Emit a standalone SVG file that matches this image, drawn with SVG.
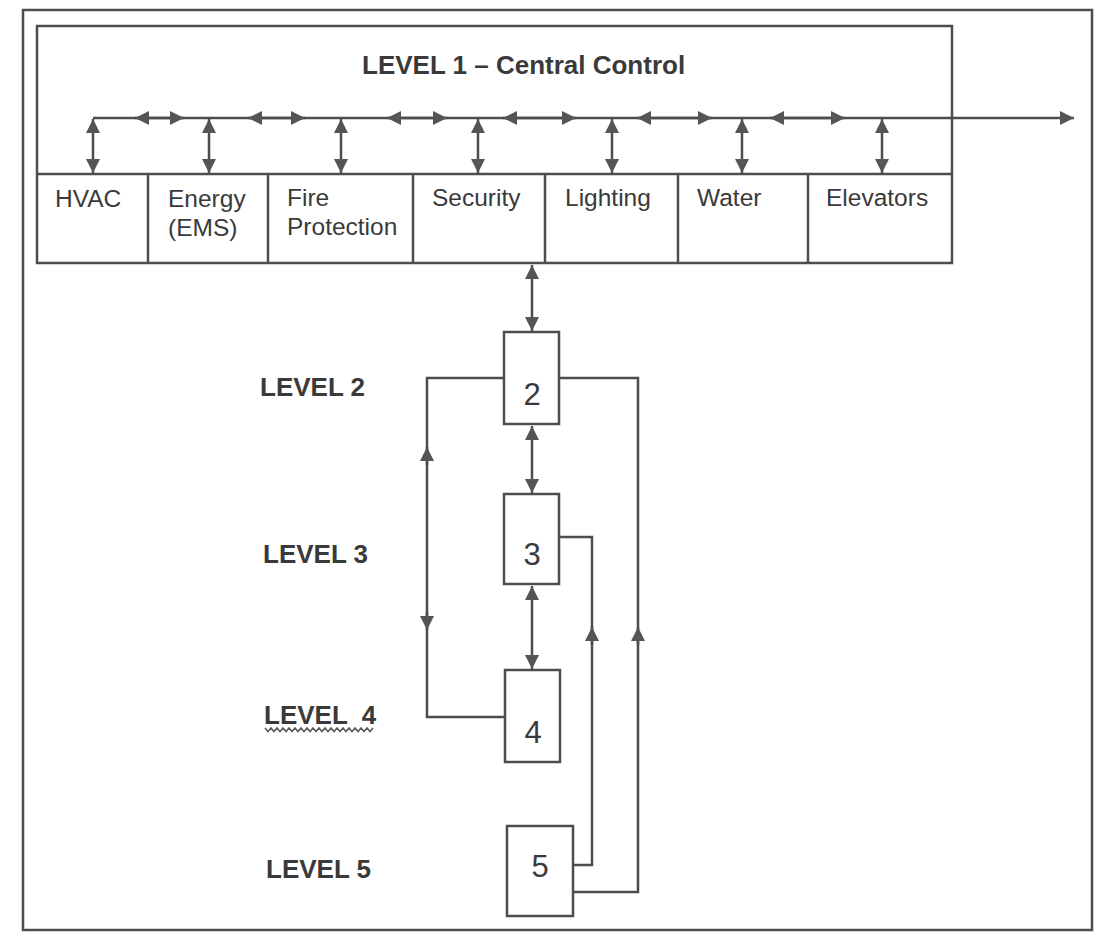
<svg xmlns="http://www.w3.org/2000/svg" width="1103" height="932" viewBox="0 0 1103 932">
<defs>
<style>
.ln{fill:none;stroke:#4d4d4d;stroke-width:2.5}
.bx{fill:#fff;stroke:#4d4d4d;stroke-width:2.5}
.ttl{font-family:"Liberation Sans",Arial,sans-serif;font-weight:bold;font-size:26px;fill:#3a3a3a}
.lab{font-family:"Liberation Sans",Arial,sans-serif;font-size:24.5px;fill:#3a3a3a}
.num{font-family:"Liberation Sans",Arial,sans-serif;font-size:31px;fill:#3a3a3a;text-anchor:middle}
.ar{fill:none;stroke:#4d4d4d;stroke-width:2.5;marker-end:url(#ah)}
.dar{fill:none;stroke:#4d4d4d;stroke-width:2.5;marker-start:url(#ah);marker-end:url(#ah)}
</style>
<marker id="ah" markerUnits="userSpaceOnUse" markerWidth="15" markerHeight="14" refX="14" refY="7" orient="auto-start-reverse" viewBox="0 0 15 14">
<path d="M0,0 L14,7 L0,14 z" fill="#555"/>
</marker>
</defs>
<rect width="1103" height="932" fill="#fff"/>
<rect id="frame" x="23" y="10" width="1069" height="920" class="ln"/>

<g id="level1">
<rect x="37" y="26" width="915" height="237" class="bx"/>
<line x1="37" y1="174" x2="952" y2="174" class="ln"/>
<text x="362" y="74" class="ttl">LEVEL 1 – Central Control</text>
</g>

<g id="hvac"><line x1="148" y1="174" x2="148" y2="263" class="ln"/><text x="55" y="207" class="lab">HVAC</text></g>
<g id="energy"><line x1="268" y1="174" x2="268" y2="263" class="ln"/><text x="168" y="207" class="lab">Energy</text><text x="168" y="236" class="lab">(EMS)</text></g>
<g id="fire"><line x1="413" y1="174" x2="413" y2="263" class="ln"/><text x="287" y="206" class="lab">Fire</text><text x="287" y="235" class="lab">Protection</text></g>
<g id="security"><line x1="545" y1="174" x2="545" y2="263" class="ln"/><text x="432" y="206" class="lab">Security</text></g>
<g id="lighting"><line x1="678" y1="174" x2="678" y2="263" class="ln"/><text x="565" y="206" class="lab">Lighting</text></g>
<g id="water"><line x1="808" y1="174" x2="808" y2="263" class="ln"/><text x="697" y="206" class="lab">Water</text></g>
<g id="elevators"><text x="826" y="206" class="lab">Elevators</text></g>

<g id="box2"><rect x="504" y="332" width="55" height="92" class="bx"/><text x="532" y="405" class="num">2</text></g>
<g id="box3"><rect x="504" y="494" width="55" height="90" class="bx"/><text x="532" y="565" class="num">3</text></g>
<g id="box4"><rect x="505" y="670" width="55" height="92" class="bx"/><text x="533" y="743" class="num">4</text></g>
<g id="box5"><rect x="507" y="826" width="66" height="90" class="bx"/><text x="540" y="877" class="num">5</text></g>

<g id="labels">
<text x="260" y="396" class="ttl">LEVEL 2</text>
<text x="263" y="563" class="ttl">LEVEL 3</text>
<text x="264" y="724" class="ttl" style="white-space:pre">LEVEL  4</text>
<path d="M265,728 l3,3.5 l3,-3.5 l3,3.5 l3,-3.5 l3,3.5 l3,-3.5 l3,3.5 l3,-3.5 l3,3.5 l3,-3.5 l3,3.5 l3,-3.5 l3,3.5 l3,-3.5 l3,3.5 l3,-3.5 l3,3.5 l3,-3.5 l3,3.5 l3,-3.5 l3,3.5 l3,-3.5 l3,3.5 l3,-3.5 l3,3.5 l3,-3.5 l3,3.5 l3,-3.5 l3,3.5 l3,-3.5 l3,3.5 l3,-3.5 l3,3.5 l3,-3.5 l3,3.5 l3,-3.5" fill="none" stroke="#5a5a5a" stroke-width="1.6"/>
<text x="266" y="878" class="ttl">LEVEL 5</text>
</g>

<g id="connectors">
<line x1="93" y1="118" x2="1074" y2="118" class="ar"/>
<line x1="135" y1="118" x2="184" y2="118" class="dar"/>
<line x1="248" y1="118" x2="305" y2="118" class="dar"/>
<line x1="387" y1="118" x2="447" y2="118" class="dar"/>
<line x1="503" y1="118" x2="576" y2="118" class="dar"/>
<line x1="637" y1="118" x2="712" y2="118" class="dar"/>
<line x1="770" y1="118" x2="845" y2="118" class="dar"/>
<line x1="93" y1="119" x2="93" y2="173" class="dar"/>
<line x1="209" y1="119" x2="209" y2="173" class="dar"/>
<line x1="341" y1="119" x2="341" y2="173" class="dar"/>
<line x1="478" y1="119" x2="478" y2="173" class="dar"/>
<line x1="612" y1="119" x2="612" y2="173" class="dar"/>
<line x1="742" y1="119" x2="742" y2="173" class="dar"/>
<line x1="882" y1="119" x2="882" y2="173" class="dar"/>
<line x1="532" y1="265" x2="532" y2="331" class="dar"/>
<line x1="532" y1="426" x2="532" y2="493" class="dar"/>
<line x1="532" y1="586" x2="532" y2="669" class="dar"/>
<path d="M504,378 H427 V717 H505" class="ln"/>
<line x1="427" y1="465" x2="427" y2="447" class="ar"/>
<line x1="427" y1="612" x2="427" y2="630" class="ar"/>
<path d="M559,378 H638 V892 H573" class="ln"/>
<line x1="638" y1="645" x2="638" y2="627" class="ar"/>
<path d="M559,537 H592 V865 H573" class="ln"/>
<line x1="592" y1="645" x2="592" y2="627" class="ar"/>
</g>
</svg>
